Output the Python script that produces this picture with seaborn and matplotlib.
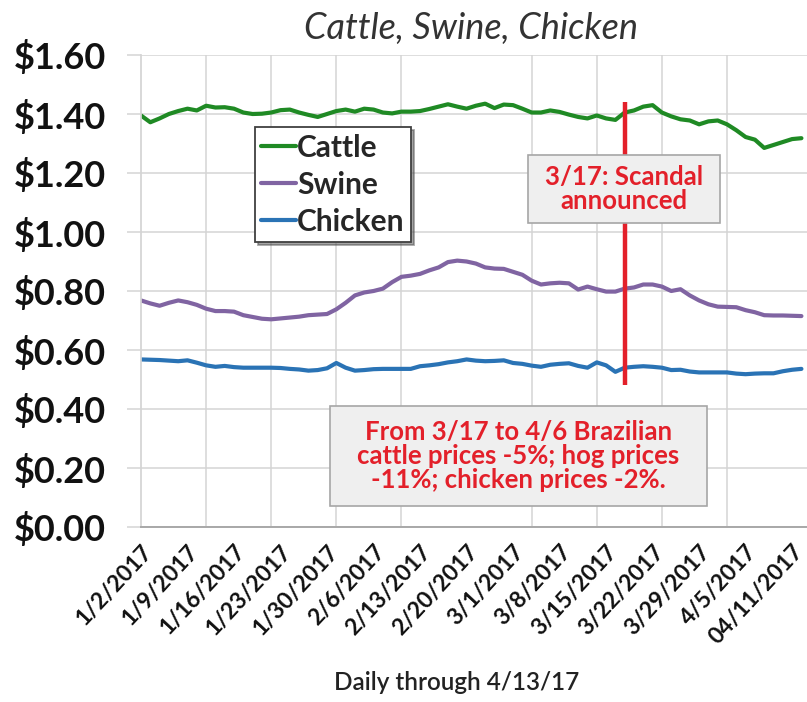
import matplotlib
matplotlib.use('Agg')
import matplotlib.pyplot as plt
import matplotlib.ticker as mticker
from matplotlib.patches import Rectangle
import pandas as pd
import seaborn as sns

# Brazilian daily prices, business days from 1/2/2017 through 4/13/2017
cattle = [1.395, 1.372, 1.385, 1.400, 1.410, 1.418, 1.412, 1.428, 1.422, 1.423,
          1.418, 1.405, 1.400, 1.401, 1.405, 1.413, 1.415, 1.405, 1.397, 1.390,
          1.400, 1.410, 1.415, 1.408, 1.418, 1.415, 1.405, 1.402, 1.408, 1.408,
          1.410, 1.417, 1.425, 1.433, 1.425, 1.418, 1.428, 1.435, 1.420, 1.432,
          1.430, 1.418, 1.405, 1.405, 1.412, 1.407, 1.398, 1.390, 1.385, 1.395,
          1.385, 1.380, 1.405, 1.412, 1.425, 1.430, 1.405, 1.392, 1.382, 1.378,
          1.365, 1.375, 1.378, 1.365, 1.345, 1.322, 1.313, 1.285, 1.295, 1.305,
          1.315, 1.318]
swine = [0.768, 0.758, 0.750, 0.760, 0.768, 0.762, 0.753, 0.740, 0.732, 0.732,
         0.730, 0.718, 0.712, 0.706, 0.704, 0.707, 0.710, 0.713, 0.718, 0.720,
         0.722, 0.738, 0.760, 0.785, 0.795, 0.800, 0.808, 0.830, 0.848, 0.852,
         0.858, 0.870, 0.880, 0.898, 0.903, 0.900, 0.893, 0.880, 0.876, 0.875,
         0.865, 0.855, 0.835, 0.822, 0.826, 0.828, 0.826, 0.805, 0.815, 0.806,
         0.798, 0.798, 0.808, 0.812, 0.822, 0.822, 0.815, 0.800, 0.806, 0.785,
         0.768, 0.755, 0.747, 0.746, 0.745, 0.735, 0.728, 0.718, 0.717, 0.717,
         0.716, 0.715]
chicken = [0.568, 0.567, 0.566, 0.564, 0.562, 0.565, 0.557, 0.548, 0.543, 0.546,
           0.542, 0.540, 0.540, 0.540, 0.540, 0.539, 0.536, 0.534, 0.530, 0.532,
           0.538, 0.556, 0.540, 0.530, 0.532, 0.535, 0.536, 0.536, 0.536, 0.536,
           0.545, 0.548, 0.552, 0.558, 0.562, 0.568, 0.564, 0.562, 0.563, 0.565,
           0.556, 0.553, 0.547, 0.543, 0.550, 0.553, 0.555, 0.546, 0.540, 0.558,
           0.548, 0.526, 0.540, 0.543, 0.545, 0.543, 0.540, 0.532, 0.533, 0.527,
           0.524, 0.524, 0.524, 0.524, 0.520, 0.518, 0.520, 0.521, 0.521, 0.528,
           0.533, 0.536]

series_names = ['Cattle', 'Swine', 'Chicken']
series_colors = ['#1f8a24', '#8064a2', '#2a73b5']

date_labels = ['1/2/2017', '1/9/2017', '1/16/2017', '1/23/2017', '1/30/2017',
               '2/6/2017', '2/13/2017', '2/20/2017', '3/1/2017', '3/8/2017',
               '3/15/2017', '3/22/2017', '3/29/2017', '4/5/2017', '04/11/2017']
y_ticks = [0.0, 0.2, 0.4, 0.6, 0.8, 1.0, 1.2, 1.4, 1.6]
y_tick_labels = ['$0.00', '$0.20', '$0.40', '$0.60', '$0.80',
                 '$1.00', '$1.20', '$1.40', '$1.60']

scandal_day = 52          # 3/17
scandal_span = (0.48, 1.44)

note_scandal = '3/17: Scandal\nannounced'
note_change = 'From 3/17 to 4/6 Brazilian\ncattle prices -5%; hog prices\n-11%; chicken prices -2%.'

RED = '#e3202a'


def add_note(ax, text, box_xy, box_wh):
    # grey Excel-style text box, drawn in axes fraction coordinates
    ax.add_patch(Rectangle(box_xy, box_wh[0], box_wh[1], transform=ax.transAxes,
                           facecolor='#efefef', edgecolor='#a6a6a6', linewidth=1.2, zorder=6))
    ax.text(box_xy[0] + box_wh[0] / 2, box_xy[1] + box_wh[1] / 2, text, transform=ax.transAxes,
            ha='center', va='center', fontsize=18.5, fontweight='bold', color=RED,
            linespacing=0.98, zorder=7)


def main():
    sns.set_theme(style='white')
    plt.rcParams['font.family'] = ['Lato', 'DejaVu Sans']

    df = pd.DataFrame({'day': list(range(len(cattle))) * 3,
                       'price': cattle + swine + chicken,
                       'series': [n for n, s in zip(series_names, [cattle, swine, chicken]) for _ in s]})

    fig = plt.figure(figsize=(8.07, 7.02), dpi=100)
    ax = fig.add_axes([141 / 807, 1 - 527 / 702, 1 - 141 / 807, 472 / 702])

    sns.lineplot(data=df, x='day', y='price', hue='series', hue_order=series_names,
                 palette=series_colors, linewidth=3.0, ax=ax)

    ax.vlines(scandal_day, scandal_span[0], scandal_span[1], color=RED, linewidth=3.2, zorder=5)

    ax.set_xlim(0, 71.6)
    ax.set_ylim(0, 1.6)

    # labels every 5 days, tick marks / gridlines every 7 days (Excel style)
    ax.set_xticks(range(0, 5 * len(date_labels), 5))
    ax.set_xticklabels(date_labels, rotation=47, ha='right', rotation_mode='anchor',
                       fontsize=16.5, fontweight='bold', color='#111111')
    ax.xaxis.set_minor_locator(mticker.MultipleLocator(7))
    ax.tick_params(axis='x', which='major', length=0, pad=10)
    ax.tick_params(axis='x', which='minor', length=5, width=1.2, color='#a0a0a0', direction='out')
    ax.grid(True, axis='x', which='minor', color='#d4d4d4', linewidth=1.1)

    ax.set_yticks(y_ticks)
    ax.set_yticklabels(y_tick_labels, fontsize=26, fontweight='bold', color='#111111')
    ax.tick_params(axis='y', length=10, width=1.1, color='#d4d4d4', pad=15, left=True)
    ax.grid(True, axis='y', color='#d4d4d4', linewidth=1.1)
    ax.set_axisbelow(True)

    for side in ['top', 'right']:
        ax.spines[side].set_visible(False)
    ax.spines['left'].set_color('#d4d4d4')
    ax.spines['bottom'].set_color('#a8a8a8')
    ax.spines['bottom'].set_linewidth(1.4)

    ax.set_xlabel('Daily through 4/13/17', fontsize=17.5, fontweight='semibold',
                  color='#222222', va='center')
    ax.xaxis.set_label_coords(0.474, -0.33)
    ax.set_ylabel('')

    ax.text(0.495, 1.057, 'Cattle, Swine, Chicken', transform=ax.transAxes,
            ha='center', va='center', fontsize=26, fontstyle='italic', fontweight='normal',
            color='#333333')

    handles, labels = ax.get_legend_handles_labels()
    leg = ax.legend(handles, labels, loc='upper left', bbox_to_anchor=(0.171, 0.847),
                    borderaxespad=0, prop={'weight': 'bold', 'size': 21.5}, handlelength=1.15,
                    handletextpad=0.05, labelspacing=0.3, borderpad=0.22,
                    frameon=True, fancybox=False, shadow=True, framealpha=1)
    leg.get_frame().set_edgecolor('#404040')
    leg.get_frame().set_linewidth(1.3)

    add_note(ax, note_scandal, (0.581, 0.644), (0.288, 0.144))
    add_note(ax, note_change, (0.284, 0.0445), (0.566, 0.212))

    fig.savefig('out.png', dpi=100)


if __name__ == '__main__':
    main()
